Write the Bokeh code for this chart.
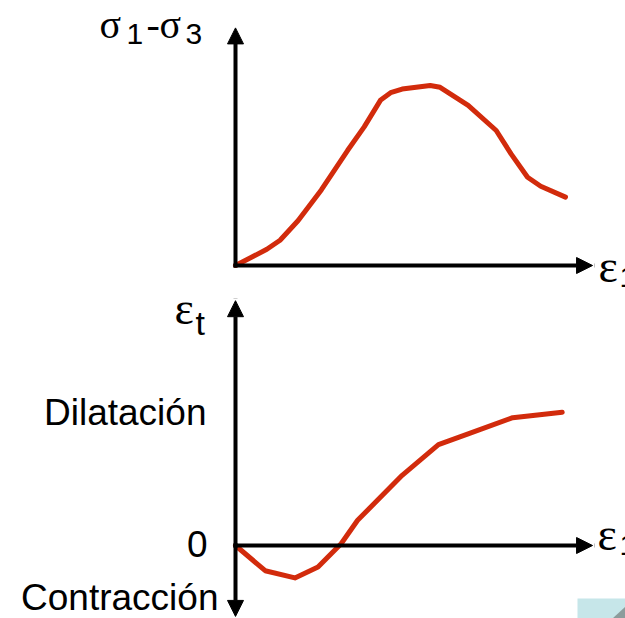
from bokeh.plotting import figure
from bokeh.layouts import column
from bokeh.models import Range1d, Arrow, NormalHead, Label, ColumnDataSource
from bokeh.embed import file_html
from bokeh.resources import INLINE

# Deviator stress curve: axial strain vs (sigma1 - sigma3), arbitrary units
ea_dev = [0, 0.95, 1.35, 1.9, 2.6, 3.4, 3.9, 4.4, 4.7, 5.05, 5.9, 6.2, 7.05, 7.9, 8.35, 8.85, 9.25, 10.0]
dev = [0, 9, 14, 25, 42, 64, 77, 92, 96, 98, 100, 99, 89, 75, 62, 49, 44, 38]

# Volumetric response: axial strain vs transverse strain (dilatancy)
ea_vol = [0, 0.9, 1.8, 2.5, 3.2, 3.7, 5.05, 6.15, 7.05, 8.4, 9.9]
eps_t = [0, -14, -18, -12, 1, 14, 39, 56, 62, 71, 74]

RED = "#d22b0c"
W = 625
H_TOP, H_BOT = 290, 328
X0 = 235          # horizontal pixel of both origins
PX_EA = 33.0      # pixels per unit of axial strain
PX_Y = 1.8        # pixels per unit on the vertical axes
Y0_TOP = 265      # origin row in the upper panel
Y0_BOT = 255      # origin row in the lower panel

EA_AXIS = 10.82
DEV_AXIS = 132.0
ET_UP = 136.0
ET_DOWN = -39.4


def xd(px):
    return (px - X0) / PX_EA


def yd(py, y0):
    return (y0 - py) / PX_Y


def panel(height, y0):
    p = figure(width=W, height=height, output_backend="svg", toolbar_location=None,
               x_axis_location=None, y_axis_location=None, min_border=0,
               x_range=Range1d(xd(0), xd(W)), y_range=Range1d(yd(height, y0), yd(0, y0)))
    p.outline_line_color = None
    p.background_fill_color = "white"
    p.border_fill_color = "white"
    p.xgrid.visible = False
    p.ygrid.visible = False
    return p


def axis_arrow(p, x1, y1):
    p.add_layout(Arrow(end=NormalHead(size=16, fill_color="black", line_color="black", line_width=1),
                       x_start=0, y_start=0, x_end=x1, y_end=y1,
                       line_color="black", line_width=4, line_cap="square"))


def text(p, px, py, y0, s, size, serif=False, align="left"):
    p.add_layout(Label(x=xd(px), y=yd(py, y0), text=s, text_align=align,
                       text_baseline="alphabetic", text_color="black",
                       text_font="Liberation Serif" if serif else "Liberation Sans",
                       text_font_size=f"{size}px"))


# upper panel: deviator stress
top = panel(H_TOP, Y0_TOP)
axis_arrow(top, EA_AXIS, 0)
axis_arrow(top, 0, DEV_AXIS)
top.line(x="ea", y="q", source=ColumnDataSource(dict(ea=ea_dev, q=dev)),
         line_color=RED, line_width=5, line_join="round", line_cap="round")
text(top, 99, 24, Y0_TOP, "σ", 40, serif=True)
text(top, 126, 33, Y0_TOP, "1", 30)
text(top, 146, 24, Y0_TOP, "-", 40, serif=True)
text(top, 159, 24, Y0_TOP, "σ", 40, serif=True)
text(top, 185, 33, Y0_TOP, "3", 30)
text(top, 598, 266, Y0_TOP, "ε", 46, serif=True)
text(top, 619, 276, Y0_TOP, "1", 30)

# lower panel: transverse strain
bot = panel(H_BOT, Y0_BOT)
axis_arrow(bot, EA_AXIS, 0)
axis_arrow(bot, 0, ET_UP)
axis_arrow(bot, 0, ET_DOWN)
bot.line(x="ea", y="et", source=ColumnDataSource(dict(ea=ea_vol, et=eps_t)),
         line_color=RED, line_width=5, line_join="round", line_cap="round")
text(bot, 174, 18, Y0_BOT, "ε", 46, serif=True)
text(bot, 195, 32, Y0_BOT, "t", 34)
text(bot, 206, 122, Y0_BOT, "Dilatación", 37, align="right")
text(bot, 207, 253, Y0_BOT, "0", 37, align="right")
text(bot, 218, 307, Y0_BOT, "Contracción", 37, align="right")
text(bot, 597, 244, Y0_BOT, "ε", 46, serif=True)
text(bot, 619, 254, Y0_BOT, "1", 30)

# small tinted tab in the lower right corner
bot.quad(left=xd(577), right=xd(W), bottom=yd(H_BOT, Y0_BOT), top=yd(308, Y0_BOT),
         fill_color="#c6e6e9", line_color=None)
bot.patch(x=[xd(612), xd(W), xd(W)], y=[yd(H_BOT, Y0_BOT), yd(H_BOT, Y0_BOT), yd(316, Y0_BOT)],
          fill_color="#8c9c9c", line_color=None)

layout = column(top, bot, spacing=0)
open("out.html", "w").write(file_html(layout, INLINE))
